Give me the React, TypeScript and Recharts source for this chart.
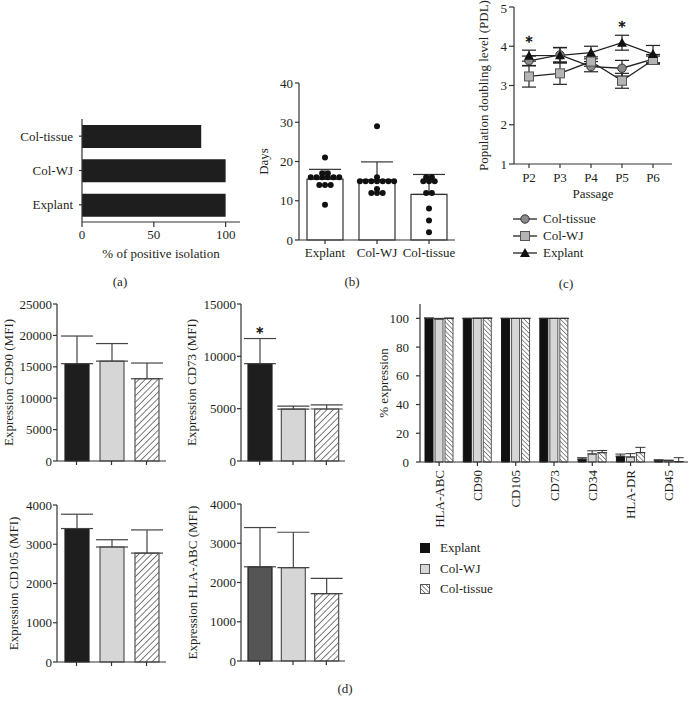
import React from 'react';
import {
  BarChart,
  Bar,
  XAxis,
  YAxis,
  ErrorBar,
  Cell,
  ComposedChart,
  Scatter,
  LineChart,
  Line,
  Legend,
  ReferenceDot,
} from 'recharts';

const FONT = '"Liberation Serif", "DejaVu Serif", serif';
const INK = '#231f20';
const AXIS = '#333333';

// groups used in every panel
const groups = ['Explant', 'Col-WJ', 'Col-tissue'];

// (a) % of positive isolation
const positiveIsolation = [100, 100, 83];

// (b) days to isolation, single donors + mean / SD
const daysExplant = [21, 17, 17, 16, 16, 16, 16, 16, 16, 14, 14, 14, 9];
const daysColWJ = [29, 16, 15, 15, 15, 15, 15, 15, 15, 13, 12, 12, 12];
const daysColTissue = [16, 16, 15, 15, 15, 12, 12, 8, 5, 2];
const daysMean = [15.5, 15.3, 11.6];
const daysSd = [2.5, 4.6, 5.1];

// (c) population doubling level
const passages = ['P2', 'P3', 'P4', 'P5', 'P6'];
const pdlColTissue = [3.63, 3.78, 3.48, 3.44, 3.67];
const pdlColTissueSd = [0.12, 0.18, 0.13, 0.2, 0.12];
const pdlColWJ = [3.23, 3.31, 3.61, 3.12, 3.65];
const pdlColWJSd = [0.27, 0.28, 0.12, 0.19, 0.1];
const pdlExplant = [3.76, 3.77, 3.84, 4.09, 3.8];
const pdlExplantSd = [0.14, 0.2, 0.16, 0.19, 0.22];
const pdlSig = ['*', '', '', '*', ''];
const pdlLegendOrder = ['Col-tissue', 'Col-WJ', 'Explant'];

// (d) MFI per marker (Explant, Col-WJ, Col-tissue)
const cd90Mean = [15500, 15900, 13100];
const cd90Sd = [4400, 2800, 2500];
const cd73Mean = [9300, 4950, 4970];
const cd73Sd = [2400, 300, 400];
const cd73Sig = ['*', '', ''];
const cd105Mean = [3400, 2930, 2775];
const cd105Sd = [365, 185, 590];
const hlaMean = [2400, 2380, 1715];
const hlaSd = [1000, 900, 390];

// (d) % expression
const markers = ['HLA-ABC', 'CD90', 'CD105', 'CD73', 'CD34', 'HLA-DR', 'CD45'];
const pctExplant = [100, 100, 100, 100, 2, 4, 1];
const pctExplantSd = [0.3, 0, 0, 0, 1, 1.5, 0.6];
const pctColWJ = [99.5, 100, 100, 100, 5.6, 3.5, 0.9];
const pctColWJSd = [0.5, 0.2, 0, 0, 2.2, 2.3, 0.4];
const pctColTissue = [100, 100, 100, 100, 6.5, 6.5, 0.3];
const pctColTissueSd = [0.2, 0.3, 0, 0, 1.5, 3.7, 2.7];

const tickStyle = { fill: INK, fontSize: 13, fontFamily: FONT };
const axisLine = { stroke: AXIS, strokeWidth: 1.2 };
const tickLine = { stroke: AXIS, strokeWidth: 1.2 };
const labelStyle = { fill: INK, fontSize: 13, fontFamily: FONT };

const range = (max: number, step: number, min = 0) => {
  const out: number[] = [];
  for (let v = min; v <= max; v += step) out.push(v);
  return out;
};

// spread equal values side by side (beeswarm-ish)
const jitter = (values: number[], gap: number) => {
  const counts: Record<string, number> = {};
  const seen: Record<string, number> = {};
  values.forEach((v) => (counts[v] = (counts[v] || 0) + 1));
  return values.map((v) => {
    const k = seen[v] || 0;
    seen[v] = k + 1;
    return (k - (counts[v] - 1) / 2) * gap;
  });
};

// asterisk drawn a few px above a reference point
const star = (offset: number) => (lp: any) => {
  const vb = lp.viewBox || {};
  return (
    <text
      x={vb.x + (vb.width || 0) / 2}
      y={vb.y - offset}
      textAnchor="middle"
      fill="#111111"
      stroke="#111111"
      strokeWidth={0.5}
      fontSize={14}
      fontFamily='"DejaVu Sans", sans-serif'
    >
      *
    </text>
  );
};

const sortBy = (payload: any[], order: string[]) =>
  [...(payload || [])].sort((a, b) => order.indexOf(a.value) - order.indexOf(b.value));

function PanelLabel({ x, y, text }: { x: number; y: number; text: string }) {
  return (
    <div
      style={{
        position: 'absolute',
        left: x,
        top: y,
        transform: 'translate(-50%, -50%)',
        fontFamily: FONT,
        fontSize: 13,
        color: INK,
        lineHeight: 1,
      }}
    >
      {text}
    </div>
  );
}

function PanelA() {
  const data = groups.map((g, i) => ({ name: g, value: positiveIsolation[i] }));
  return (
    <div style={{ position: 'absolute', left: 0, top: 110 }}>
      <BarChart width={250} height={156} layout="vertical" data={data} margin={{ top: 9, right: 10, bottom: 8, left: 0 }}>
        <XAxis
          type="number"
          domain={[0, 110]}
          ticks={[0, 50, 100]}
          height={36}
          tickSize={5}
          tickMargin={3}
          tick={tickStyle}
          axisLine={axisLine}
          tickLine={tickLine}
          label={{ value: '% of positive isolation', position: 'insideBottom', offset: 0, ...labelStyle }}
        />
        <YAxis
          type="category"
          dataKey="name"
          reversed
          width={82}
          tickSize={3}
          tickMargin={6}
          tick={tickStyle}
          axisLine={axisLine}
          tickLine={tickLine}
        />
        <Bar dataKey="value" fill="#1e1e1e" barSize={23} isAnimationActive={false} />
      </BarChart>
    </div>
  );
}

function PanelB() {
  const lists = [daysExplant, daysColWJ, daysColTissue];
  const offsets = lists.map((l) => jitter(l, 5.7));
  const maxN = Math.max(...lists.map((l) => l.length));
  const data = groups.map((g, i) => {
    const row: any = { name: g, mean: daysMean[i], err: [0, daysSd[i]] };
    lists[i].forEach((v, k) => (row[`d${k}`] = v));
    return row;
  });
  const dots = Array.from({ length: maxN }, (_, k) => k);
  return (
    <div style={{ position: 'absolute', left: 250, top: 75 }}>
      <ComposedChart width={210} height={190} data={data} margin={{ top: 8, right: 5, bottom: 0, left: 0 }}>
        <XAxis
          dataKey="name"
          height={25}
          tickSize={4}
          tickMargin={4}
          tick={tickStyle}
          axisLine={axisLine}
          tickLine={tickLine}
          interval={0}
        />
        <YAxis
          domain={[0, 40]}
          ticks={range(40, 10)}
          width={49}
          tickSize={4}
          tickMargin={2}
          tick={tickStyle}
          axisLine={axisLine}
          tickLine={tickLine}
          label={{ value: 'Days', angle: -90, position: 'insideLeft', offset: 13, style: { textAnchor: 'middle' }, ...labelStyle }}
        />
        <Bar dataKey="mean" fill="#ffffff" stroke={AXIS} strokeWidth={1.2} barSize={36} isAnimationActive={false}>
          <ErrorBar dataKey="err" width={16} stroke={AXIS} strokeWidth={1.2} />
        </Bar>
        {dots.map((k) => (
          <Scatter
            key={k}
            dataKey={`d${k}`}
            isAnimationActive={false}
            shape={(p: any) => {
              const gi = groups.indexOf(p.payload?.name);
              const v = p.payload?.[`d${k}`];
              if (v == null || p.cx == null || p.cy == null || gi < 0) return <g />;
              return <circle cx={p.cx + offsets[gi][k]} cy={p.cy} r={3} fill="#111" />;
            }}
          />
        ))}
      </ComposedChart>
    </div>
  );
}

const renderCircle = (p: any) => {
  if (p.cx == null || p.cy == null) return <g key={`c${p.index}`} />;
  return <circle key={`c${p.index}`} cx={p.cx} cy={p.cy} r={4.2} fill="#8a8a8a" stroke="#333" strokeWidth={1} />;
};
const renderSquare = (p: any) => {
  if (p.cx == null || p.cy == null) return <g key={`s${p.index}`} />;
  return <rect key={`s${p.index}`} x={p.cx - 4.5} y={p.cy - 4.5} width={9} height={9} fill="#b4b4b4" stroke="#555" strokeWidth={1} />;
};
const renderTriangle = (p: any) => {
  if (p.cx == null || p.cy == null) return <g key={`t${p.index}`} />;
  const { cx, cy } = p;
  return <polygon key={`t${p.index}`} points={`${cx},${cy - 5} ${cx + 5},${cy + 4} ${cx - 5},${cy + 4}`} fill="#111" />;
};

const lineMarkers: Record<string, (p: any) => React.ReactElement> = {
  'Col-tissue': renderCircle,
  'Col-WJ': renderSquare,
  Explant: renderTriangle,
};

function PanelC() {
  const data = passages.map((p, i) => ({
    p,
    tissue: pdlColTissue[i],
    tissueErr: pdlColTissueSd[i],
    wj: pdlColWJ[i],
    wjErr: pdlColWJSd[i],
    explant: pdlExplant[i],
    explantErr: pdlExplantSd[i],
  }));
  return (
    <div style={{ position: 'absolute', left: 440, top: 0 }}>
      <LineChart width={250} height={270} data={data} margin={{ top: 7, right: 18, bottom: 72, left: 0 }}>
        <XAxis
          dataKey="p"
          padding={{ left: 15, right: 19 }}
          height={34}
          tickSize={4}
          tickMargin={5}
          tick={tickStyle}
          axisLine={axisLine}
          tickLine={tickLine}
          label={{ value: 'Passage', position: 'insideBottom', offset: 0, ...labelStyle }}
        />
        <YAxis
          domain={[1, 5]}
          ticks={range(5, 1, 1)}
          width={74}
          tickSize={5}
          tickMargin={2}
          tick={tickStyle}
          axisLine={axisLine}
          tickLine={tickLine}
          label={{
            value: 'Population doubling level (PDL)',
            angle: -90,
            position: 'insideLeft',
            offset: 43,
            style: { textAnchor: 'middle' },
            ...labelStyle,
          }}
        />
        <Line dataKey="tissue" name="Col-tissue" stroke="#222" strokeWidth={1.3} dot={renderCircle} isAnimationActive={false}>
          <ErrorBar dataKey="tissueErr" width={7} stroke="#222" strokeWidth={1.2} />
        </Line>
        <Line dataKey="wj" name="Col-WJ" stroke="#222" strokeWidth={1.3} dot={renderSquare} isAnimationActive={false}>
          <ErrorBar dataKey="wjErr" width={7} stroke="#222" strokeWidth={1.2} />
        </Line>
        <Line dataKey="explant" name="Explant" stroke="#222" strokeWidth={1.3} dot={renderTriangle} isAnimationActive={false}>
          <ErrorBar dataKey="explantErr" width={7} stroke="#222" strokeWidth={1.2} />
        </Line>
        {pdlSig.map((s, i) =>
          s ? (
            <ReferenceDot
              key={i}
              x={passages[i]}
              y={pdlExplant[i] + pdlExplantSd[i]}
              r={0}
              stroke="none"
              fill="none"
              label={star(4)}
            />
          ) : null,
        )}
        <Legend
          layout="vertical"
          align="center"
          verticalAlign="middle"
          wrapperStyle={{ left: 73, top: 210, width: 'auto', height: 'auto' }}
          content={(props: any) => (
            <div style={{ fontFamily: FONT, fontSize: 13, color: INK }}>
              {sortBy(props.payload, pdlLegendOrder).map((e: any) => (
                <div key={e.value} style={{ display: 'flex', alignItems: 'center', height: 17 }}>
                  <svg width={24} height={12} style={{ marginRight: 6 }}>
                    <line x1={0} y1={6} x2={24} y2={6} stroke="#222" strokeWidth={1.3} />
                    {lineMarkers[e.value]?.({ cx: 12, cy: 6, index: 0 })}
                  </svg>
                  <span>{e.value}</span>
                </div>
              ))}
            </div>
          )}
        />
      </LineChart>
    </div>
  );
}

type SmallProps = {
  id: string;
  left: number;
  top: number;
  marginTop: number;
  marginRight: number;
  axisWidth: number;
  labelOffset: number;
  max: number;
  step: number;
  means: number[];
  sds: number[];
  label: string;
  explantFill?: string;
  sig?: string[];
};

function SmallBars(p: SmallProps) {
  const data = groups.map((g, i) => ({ name: g, mean: p.means[i], err: [0, p.sds[i]] }));
  const fills = [p.explantFill ?? '#1e1e1e', '#d6d6d6', `url(#${p.id}-hatch)`];
  const strokes = ['#222', '#555', '#555'];
  return (
    <div style={{ position: 'absolute', left: p.left, top: p.top }}>
      <BarChart width={170} height={p.marginTop + 157 + 8} data={data} margin={{ top: p.marginTop, right: p.marginRight, bottom: 0, left: 0 }}>
        <defs>
          <pattern id={`${p.id}-hatch`} width={4.5} height={4.5} patternUnits="userSpaceOnUse" patternTransform="rotate(45)">
            <rect width={4.5} height={4.5} fill="#ffffff" />
            <line x1={0} y1={0} x2={0} y2={4.5} stroke="#333" strokeWidth={1.3} />
          </pattern>
        </defs>
        <XAxis
          dataKey="name"
          height={8}
          tickSize={4}
          tickFormatter={() => ''}
          padding={{ left: 2, right: 2 }}
          axisLine={axisLine}
          tickLine={tickLine}
          interval={0}
        />
        <YAxis
          domain={[0, p.max]}
          ticks={range(p.max, p.step)}
          width={p.axisWidth}
          tickSize={4}
          tickMargin={1}
          tick={tickStyle}
          axisLine={axisLine}
          tickLine={tickLine}
          label={{
            value: p.label,
            angle: -90,
            position: 'insideLeft',
            offset: p.labelOffset,
            style: { textAnchor: 'middle' },
            ...labelStyle,
          }}
        />
        <Bar dataKey="mean" barSize={24} strokeWidth={1.2} isAnimationActive={false}>
          {data.map((d, i) => (
            <Cell key={d.name} fill={fills[i]} stroke={strokes[i]} />
          ))}
          <ErrorBar dataKey="err" width={16} stroke="#444" strokeWidth={1.2} />
        </Bar>
        {(p.sig || []).map((s, i) =>
          s ? (
            <ReferenceDot
              key={i}
              x={groups[i]}
              y={p.means[i] + p.sds[i]}
              r={0}
              stroke="none"
              fill="none"
              label={star(2)}
            />
          ) : null,
        )}
      </BarChart>
    </div>
  );
}

const RotatedTick = (props: any) => {
  const { x, y, payload } = props;
  return (
    <g transform={`translate(${x},${y})`}>
      <text transform="rotate(-90)" textAnchor="end" dy="0.35em" fill={INK} fontSize={13} fontFamily={FONT}>
        {payload.value}
      </text>
    </g>
  );
};

const swatches: Record<string, { fill: string; stroke: string }> = {
  Explant: { fill: '#111111', stroke: '#111111' },
  'Col-WJ': { fill: '#d6d6d6', stroke: '#555' },
  'Col-tissue': { fill: 'url(#pct-hatch)', stroke: '#555' },
};

function PanelPct() {
  const data = markers.map((m, i) => ({
    name: m,
    explant: pctExplant[i],
    explantErr: [0, pctExplantSd[i]],
    wj: pctColWJ[i],
    wjErr: [0, pctColWJSd[i]],
    tissue: pctColTissue[i],
    tissueErr: [0, pctColTissueSd[i]],
  }));
  return (
    <div style={{ position: 'absolute', left: 350, top: 295 }}>
      <BarChart width={340} height={310} data={data} barSize={8} barGap={2} margin={{ top: 9, right: 2, bottom: 63, left: 0 }}>
        <defs>
          <pattern id="pct-hatch" width={3.2} height={3.2} patternUnits="userSpaceOnUse" patternTransform="rotate(-45)">
            <rect width={3.2} height={3.2} fill="#ffffff" />
            <line x1={0} y1={0} x2={0} y2={3.2} stroke="#333" strokeWidth={1.1} />
          </pattern>
        </defs>
        <XAxis
          dataKey="name"
          height={80}
          tickSize={4}
          tickMargin={4}
          tick={<RotatedTick />}
          axisLine={axisLine}
          tickLine={tickLine}
          interval={0}
        />
        <YAxis
          domain={[0, 110]}
          ticks={range(100, 20)}
          width={70}
          tickSize={4}
          tickMargin={7}
          tick={tickStyle}
          axisLine={axisLine}
          tickLine={tickLine}
          label={{ value: '% expression', angle: -90, position: 'insideLeft', offset: 33, style: { textAnchor: 'middle' }, ...labelStyle }}
        />
        <Bar dataKey="explant" name="Explant" fill="#111111" stroke="#111111" strokeWidth={1} isAnimationActive={false}>
          <ErrorBar dataKey="explantErr" width={5} stroke="#333" strokeWidth={1} />
        </Bar>
        <Bar dataKey="wj" name="Col-WJ" fill="#d6d6d6" stroke="#555" strokeWidth={1} isAnimationActive={false}>
          <ErrorBar dataKey="wjErr" width={5} stroke="#333" strokeWidth={1} />
        </Bar>
        <Bar dataKey="tissue" name="Col-tissue" fill="url(#pct-hatch)" stroke="#555" strokeWidth={1} isAnimationActive={false}>
          <ErrorBar dataKey="tissueErr" width={5} stroke="#333" strokeWidth={1} />
        </Bar>
        <Legend
          layout="vertical"
          align="center"
          verticalAlign="middle"
          wrapperStyle={{ left: 70, top: 243, width: 'auto', height: 'auto' }}
          content={(props: any) => (
            <div style={{ fontFamily: FONT, fontSize: 13, color: INK }}>
              {sortBy(props.payload, groups).map((e: any) => (
                <div key={e.value} style={{ display: 'flex', alignItems: 'center', height: 20.5 }}>
                  <svg width={10} height={10} style={{ marginRight: 10 }}>
                    <rect x={0.5} y={0.5} width={9} height={9} fill={swatches[e.value]?.fill} stroke={swatches[e.value]?.stroke} strokeWidth={1} />
                  </svg>
                  <span>{e.value}</span>
                </div>
              ))}
            </div>
          )}
        />
      </BarChart>
    </div>
  );
}

export default function App() {
  return (
    <div
      style={{
        position: 'absolute',
        left: 0,
        top: 0,
        width: 690,
        height: 708,
        background: '#ffffff',
        fontFamily: FONT,
        overflow: 'hidden',
      }}
    >
      <PanelA />
      <PanelB />
      <PanelC />
      <SmallBars
        id="cd90"
        left={0}
        top={295}
        marginTop={9}
        marginRight={4}
        axisWidth={57}
        labelOffset={8}
        max={25000}
        step={5000}
        means={cd90Mean}
        sds={cd90Sd}
        label="Expression CD90 (MFI)"
      />
      <SmallBars
        id="cd73"
        left={180}
        top={295}
        marginTop={9}
        marginRight={5}
        axisWidth={61}
        labelOffset={11}
        max={15000}
        step={5000}
        means={cd73Mean}
        sds={cd73Sd}
        label="Expression CD73 (MFI)"
        sig={cd73Sig}
      />
      <SmallBars
        id="cd105"
        left={0}
        top={495}
        marginTop={10}
        marginRight={4}
        axisWidth={57}
        labelOffset={13}
        max={4000}
        step={1000}
        means={cd105Mean}
        sds={cd105Sd}
        label="Expression CD105 (MFI)"
      />
      <SmallBars
        id="hla"
        left={180}
        top={495}
        marginTop={9}
        marginRight={5}
        axisWidth={61}
        labelOffset={12}
        max={4000}
        step={1000}
        means={hlaMean}
        sds={hlaSd}
        label="Expression HLA-ABC (MFI)"
        explantFill="#555555"
      />
      <PanelPct />
      <PanelLabel x={120} y={281} text="(a)" />
      <PanelLabel x={352} y={281} text="(b)" />
      <PanelLabel x={566} y={283} text="(c)" />
      <PanelLabel x={345} y={688} text="(d)" />
    </div>
  );
}
